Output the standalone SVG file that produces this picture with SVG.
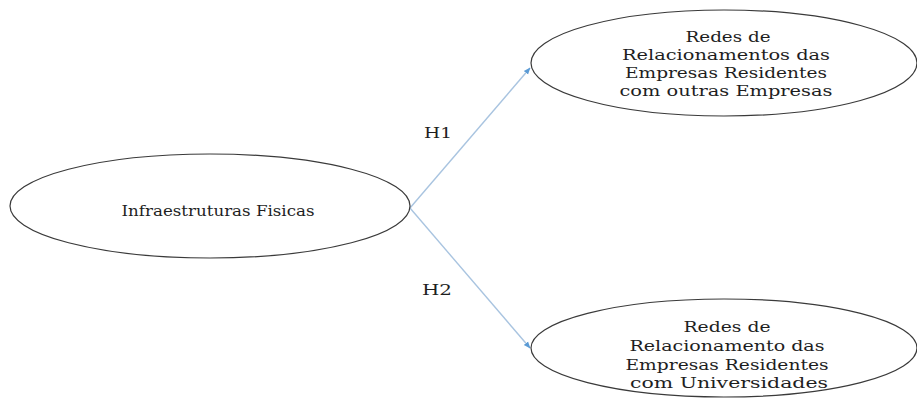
<svg xmlns="http://www.w3.org/2000/svg" width="917" height="398" viewBox="0 0 917 398">
<style>
.el{fill:#fff;stroke:#3a3a3a;stroke-width:1.2}
.t{font-family:'DejaVu Serif','Liberation Serif',serif;font-size:14px;fill:#1e1e1e;text-anchor:middle}
.c{stroke:#a9c4e0;stroke-width:1.4;fill:none}
</style>
<defs>
<marker id="ah" viewBox="0 0 10 10" refX="9" refY="5" markerWidth="7" markerHeight="7" orient="auto" markerUnits="userSpaceOnUse">
<path d="M0,1 L10,5 L0,9 z" fill="#5b9bd5"/>
</marker>
</defs>
<rect width="917" height="398" fill="#fff"/>
<g id="connectors">
<line class="c" x1="410" y1="208" x2="530" y2="68" marker-end="url(#ah)"/>
<line class="c" x1="410" y1="208" x2="530" y2="348" marker-end="url(#ah)"/>
<text class="t" x="438" y="138" textLength="28" lengthAdjust="spacingAndGlyphs">H1</text>
<text class="t" x="437" y="295" textLength="30" lengthAdjust="spacingAndGlyphs">H2</text>
</g>
<g id="infra">
<ellipse class="el" cx="210" cy="206" rx="200" ry="52"/>
<text class="t" x="218" y="216" textLength="193" lengthAdjust="spacingAndGlyphs">Infraestruturas Fisicas</text>
</g>
<g id="redes-empresas">
<ellipse class="el" cx="724" cy="63" rx="193" ry="53"/>
<text class="t" x="728" y="42" textLength="85" lengthAdjust="spacingAndGlyphs">Redes de</text>
<text class="t" x="726" y="60" textLength="208" lengthAdjust="spacingAndGlyphs">Relacionamentos das</text>
<text class="t" x="726" y="78" textLength="202" lengthAdjust="spacingAndGlyphs">Empresas Residentes</text>
<text class="t" x="726" y="96" textLength="213" lengthAdjust="spacingAndGlyphs">com outras  Empresas</text>
</g>
<g id="redes-universidades">
<ellipse class="el" cx="724" cy="348" rx="193" ry="49"/>
<text class="t" x="727" y="332" textLength="87" lengthAdjust="spacingAndGlyphs">Redes de</text>
<text class="t" x="727" y="351" textLength="195" lengthAdjust="spacingAndGlyphs">Relacionamento das</text>
<text class="t" x="727" y="370" textLength="203" lengthAdjust="spacingAndGlyphs">Empresas Residentes</text>
<text class="t" x="729" y="388" textLength="198" lengthAdjust="spacingAndGlyphs">com Universidades</text>
</g>
</svg>
